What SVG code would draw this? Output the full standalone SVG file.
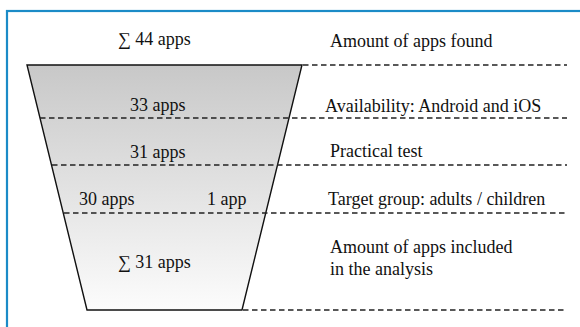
<svg xmlns="http://www.w3.org/2000/svg" width="580" height="327" viewBox="0 0 580 327">
  <defs>
    <linearGradient id="funnelFill" x1="0" y1="0" x2="0" y2="1">
      <stop offset="0" stop-color="#c8c8c8"/>
      <stop offset="0.5" stop-color="#e2e2e2"/>
      <stop offset="1" stop-color="#fcfcfc"/>
    </linearGradient>
  </defs>

  <rect width="580" height="327" fill="#fff"/>
  <!-- outer frame, open on the right and bottom -->
  <rect x="7" y="11" width="600" height="340" fill="none" stroke="#1b8bc7" stroke-width="2.2"/>

  <!-- funnel body -->
  <g id="funnel">
    <polygon points="27,65 302,65 242,310 87,310" fill="url(#funnelFill)" stroke="#111" stroke-width="1.4"/>
  </g>

  <!-- stage separators -->
  <g id="connectors" stroke="#222" stroke-width="1.3" stroke-dasharray="5.5 3.5" fill="none">
    <line x1="303" y1="65" x2="567" y2="65"/>
    <line x1="40" y1="118" x2="567" y2="118"/>
    <line x1="52" y1="165" x2="567" y2="165"/>
    <line x1="64" y1="213" x2="567" y2="213"/>
    <line x1="243" y1="310" x2="567" y2="310"/>
  </g>

  <!-- counts inside the funnel -->
  <g id="count-total-found"><text x="118" y="45" font-family="Liberation Serif" font-size="18" fill="#111">∑ 44 apps</text></g>
  <g id="count-availability"><text x="130" y="111" font-family="Liberation Serif" font-size="18" fill="#111">33 apps</text></g>
  <g id="count-practical"><text x="130" y="158" font-family="Liberation Serif" font-size="18" fill="#111">31 apps</text></g>
  <g id="count-adults"><text x="79" y="205" font-family="Liberation Serif" font-size="18" fill="#111">30 apps</text></g>
  <g id="count-children"><text x="207" y="205" font-family="Liberation Serif" font-size="18" fill="#111">1 app</text></g>
  <g id="count-total-included"><text x="118" y="268" font-family="Liberation Serif" font-size="18" fill="#111">∑ 31 apps</text></g>

  <!-- stage descriptions -->
  <g id="label-found"><text x="330" y="47" font-family="Liberation Serif" font-size="18" fill="#111">Amount of apps found</text></g>
  <g id="label-availability"><text x="325" y="112" font-family="Liberation Serif" font-size="18" fill="#111">Availability: Android and iOS</text></g>
  <g id="label-practical"><text x="330" y="157" font-family="Liberation Serif" font-size="18" fill="#111">Practical test</text></g>
  <g id="label-target"><text x="328" y="205" font-family="Liberation Serif" font-size="18" fill="#111">Target group: adults / children</text></g>
  <g id="label-included">
    <text x="330" y="253" font-family="Liberation Serif" font-size="18" fill="#111">Amount of apps included</text>
    <text x="330" y="275" font-family="Liberation Serif" font-size="18" fill="#111">in the analysis</text>
  </g>
</svg>
